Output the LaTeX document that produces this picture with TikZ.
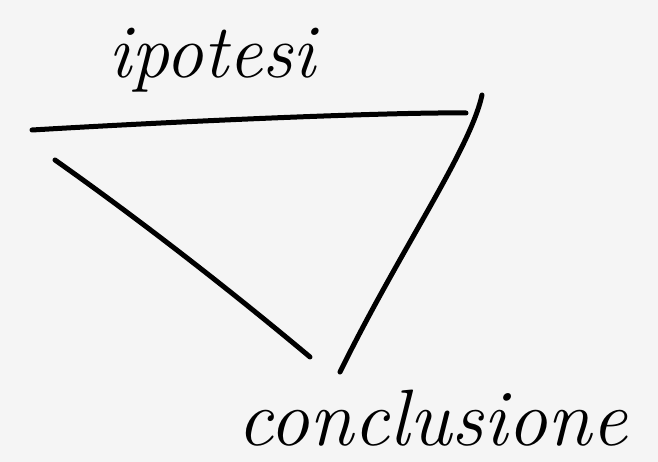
\documentclass[tikz,border=0pt]{standalone}
\begin{document}
\begin{tikzpicture}[x=1pt,y=-1pt,
  stroke/.style={line width=5pt,line cap=round,line join=round,black},
  label/.style={font=\fontsize{#1}{#1}\selectfont\itshape,inner sep=0pt,text=black}]
\fill[gray!8] (0,0) rectangle (658,462);
\useasboundingbox (0,0) rectangle (658,462);
\node[label=76] (hyp) at (212,60) {ipotesi};
\node[label=80] (concl) at (432,418) {conclusione};
\coordinate (tl) at (32,130);
\coordinate (tr) at (466,113);
\coordinate (rt) at (482,95);
\coordinate (rb) at (340,372);
\coordinate (lt) at (55,160);
\coordinate (lb) at (310,357);
\draw[stroke] (tl) .. controls (200,120) and (400,112) .. (tr);
\draw[stroke] (rt) .. controls (470,150) and (400,250) .. (rb);
\draw[stroke] (lt) .. controls (140,220) and (230,290) .. (lb);
\end{tikzpicture}
\end{document}
